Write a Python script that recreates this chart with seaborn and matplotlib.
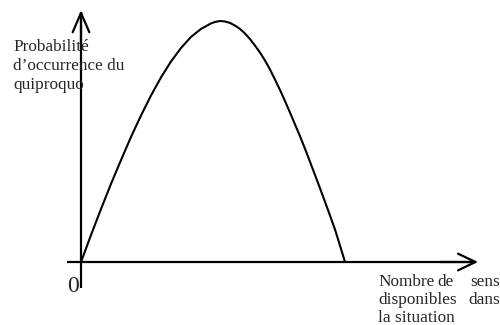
import matplotlib
matplotlib.use("Agg")
import matplotlib.pyplot as plt
import seaborn as sns
import pandas as pd

# Data (x: nombre de sens, arbitrary units; y: probabilité, peak = 1)
sens = [0.000, 0.379, 0.758, 1.136, 1.515, 1.894, 2.273, 2.652, 3.030, 3.409,
        3.788, 4.167, 4.545, 4.924, 5.076, 5.265, 5.455, 5.644, 5.833, 6.023,
        6.212, 6.402, 6.591, 6.780, 6.970, 7.159, 7.348, 7.538, 7.727, 7.917,
        8.106, 8.295, 8.485, 8.674, 8.864, 9.053, 9.242, 9.432, 9.621, 9.811,
        10.000]
probabilite = [0.000, 0.112, 0.220, 0.324, 0.423, 0.519, 0.608, 0.691, 0.766,
               0.832, 0.888, 0.934, 0.967, 0.990, 0.996, 1.000, 0.998, 0.992,
               0.981, 0.967, 0.948, 0.925, 0.898, 0.869, 0.836, 0.799, 0.757,
               0.714, 0.668, 0.620, 0.571, 0.522, 0.470, 0.416, 0.361, 0.306,
               0.250, 0.193, 0.135, 0.068, 0.000]

y_label_lines = ["Probabilité", "d\u2019occurrence du", "quiproquo"]
x_label_lines = [["Nombre", "de", "sens"], ["disponibles", "dans"], ["la situation"]]
origin_label = "0"

df = pd.DataFrame({"sens": sens, "p": probabilite})

sns.set_style("white")
plt.rcParams["font.family"] = ["Liberation Serif", "DejaVu Serif"]

W, H = 500, 325
fig = plt.figure(figsize=(W / 100, H / 100), dpi=100)
ax = fig.add_axes([0, 0, 1, 1])

# scale: 26.4 px per x unit, 241 px per y unit, origin at pixel (81, 262)
sx, sy, ox, oy = 26.4, 241.0, 81.0, 262.0
ax.set_xlim(-ox / sx, (W - ox) / sx)
ax.set_ylim(-(H - oy) / sy, oy / sy)
ax.axis("off")

sns.lineplot(data=df, x="sens", y="p", ax=ax, color="black", linewidth=1.5,
             sort=False, estimator=None)

def px(x):
    return (x - ox) / sx

def py(y):
    return (oy - y) / sy

# axes with open arrowheads
ax.plot([px(67), px(476)], [0, 0], color="black", lw=1.6, solid_capstyle="butt")
ax.plot([0, 0], [py(288), py(12)], color="black", lw=1.6, solid_capstyle="butt")
ax.annotate("", xy=(px(478), 0), xytext=(px(440), 0),
            arrowprops=dict(arrowstyle="->,head_length=1.25,head_width=0.6",
                            color="black", lw=1.6, shrinkA=0, shrinkB=0))
ax.annotate("", xy=(0, py(10)), xytext=(0, py(50)),
            arrowprops=dict(arrowstyle="->,head_length=1.4,head_width=0.6",
                            color="black", lw=1.6, shrinkA=0, shrinkB=0))

fs = 12.4
for line, base in zip(y_label_lines, [51, 70.5, 89.5]):
    fig.text(13 / W, 1 - base / H, line, fontsize=fs, ha="left", va="baseline")

# justified label on the right
left, right = 378, 500
bases = [285.5, 304, 322]
for words, base in zip(x_label_lines, bases):
    yb = 1 - base / H
    fig.text(left / W, yb, words[0], fontsize=fs, ha="left", va="baseline")
    if len(words) > 1:
        fig.text(right / W, yb, words[-1], fontsize=fs, ha="right", va="baseline")
    if len(words) == 3:
        fig.text(437 / W, yb, words[1], fontsize=fs, ha="left", va="baseline")

fig.text(73 / W, 1 - 292 / H, origin_label, fontsize=17, ha="center", va="baseline")

fig.savefig("out.png", dpi=100, facecolor="white")
